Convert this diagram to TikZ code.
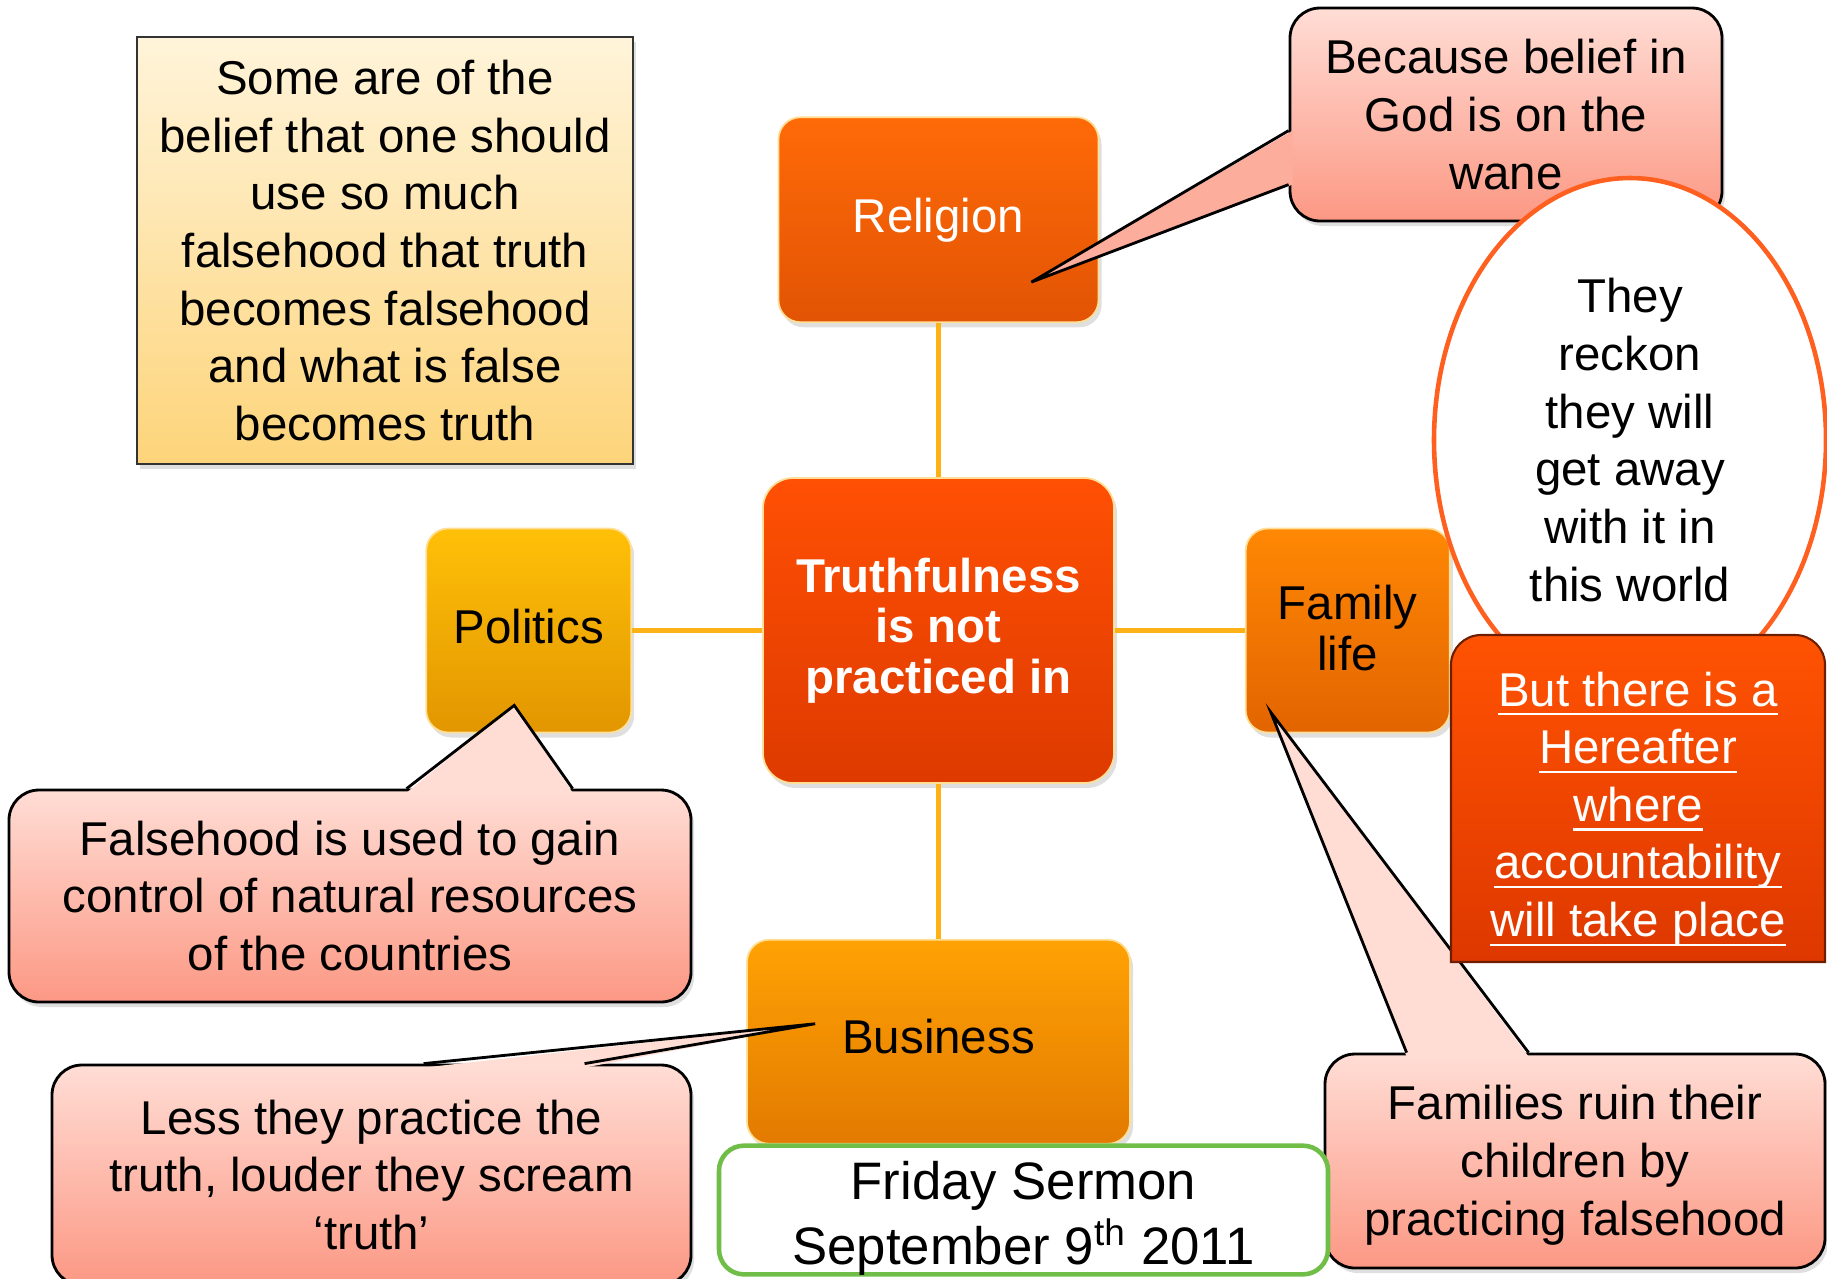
\documentclass[tikz,border=0pt]{standalone}
\usepackage{fontspec}
\setmainfont{Liberation Sans}
\usepackage{tikz}
\usetikzlibrary{positioning,calc,shapes.geometric,shadows}

\definecolor{linkorange}{RGB}{252,178,22}
\definecolor{rimyellow}{RGB}{255,222,150}
\definecolor{notetop}{RGB}{255,244,218}
\definecolor{notebottom}{RGB}{253,212,122}
\definecolor{calltop}{RGB}{255,221,213}
\definecolor{callbottom}{RGB}{252,152,132}
\colorlet{callmid}{callbottom!70!calltop}
\definecolor{religtop}{RGB}{255,106,8}
\definecolor{religbottom}{RGB}{226,84,4}
\definecolor{truthtop}{RGB}{255,80,4}
\definecolor{truthbottom}{RGB}{222,58,0}
\definecolor{polittop}{RGB}{255,192,8}
\definecolor{politbottom}{RGB}{226,150,0}
\definecolor{famtop}{RGB}{255,136,4}
\definecolor{fambottom}{RGB}{226,100,0}
\definecolor{bustop}{RGB}{255,162,4}
\definecolor{busbottom}{RGB}{226,122,0}
\definecolor{ellorange}{RGB}{255,96,32}
\definecolor{heretop}{RGB}{255,82,2}
\definecolor{herebottom}{RGB}{222,56,0}
\definecolor{sermongreen}{RGB}{112,190,72}

% white underline for the hereafter box
\newcommand{\lineunder}[1]{\leavevmode\setbox0=\hbox{#1}\rlap{\raisebox{-0.2em}{\rule{\wd0}{0.7pt}}}\box0}

\begin{document}
\begin{tikzpicture}[node distance=1.3cm,
    every node/.style={align=center, inner sep=0pt, font=\fontsize{13.5}{16.4}\selectfont},
    softshadow/.style={drop shadow={opacity=0.25, shadow xshift=0.03cm, shadow yshift=-0.05cm}},
    topic/.style={rounded corners=0.22cm, minimum height=2.04cm, draw=rimyellow, line width=0.5pt, softshadow},
    callout/.style={rounded corners=0.3cm, draw=black, line width=0.8pt, top color=calltop, bottom color=callbottom, softshadow},
    pointer/.style={draw=black, line width=0.8pt, line join=miter},
    link/.style={draw=linkorange, line width=1.4pt}]

    \useasboundingbox (0,0) rectangle (18.27,-12.78);
    \clip (0,0) rectangle (18.27,-12.78);

    \node (note) [draw=black!80, line width=0.8pt, top color=notetop, bottom color=notebottom,
        minimum width=4.96cm, minimum height=4.27cm, softshadow] at (3.85,-2.505)
        {Some are of the\\ belief that one should\\ use so much\\ falsehood that truth\\ becomes falsehood\\ and what is false\\ becomes truth};

    % the four topics round the centre
    \node (truth) [topic, rounded corners=0.3cm, top color=truthtop, bottom color=truthbottom,
        minimum width=3.51cm, minimum height=3.05cm, text=white,
        font=\bfseries\fontsize{13.5}{14.3}\selectfont] at (9.385,-6.305)
        {Truthfulness\\ is not\\ practiced in};
    \node (religion) [topic, above=1.54cm of truth, top color=religtop, bottom color=religbottom,
        minimum width=3.2cm, minimum height=2.05cm, text=white] {Religion};
    \node (business) [topic, below=1.55cm of truth, top color=bustop, bottom color=busbottom,
        minimum width=3.83cm] {\raisebox{0.05cm}[\height][\depth]{Business}};
    \node (politics) [topic, left=of truth, top color=polittop, bottom color=politbottom,
        minimum width=2.05cm] {\raisebox{0.035cm}[\height][\depth]{Politics}};
    \node (family) [topic, right=of truth, top color=famtop, bottom color=fambottom,
        minimum width=2.04cm, font=\fontsize{13.5}{14.3}\selectfont]
        {\raisebox{-0.045cm}[\height][\depth]{\begin{tabular}{@{}c@{}}Family\\ life\end{tabular}}};

    \draw[link] (religion) -- (truth);
    \draw[link] (truth) -- (business);
    \draw[link] (politics) -- (truth);
    \draw[link] (truth) -- (family);

    % callout for religion
    \node (because) [callout, minimum width=4.32cm, minimum height=2.13cm] at (15.06,-1.145)
        {Because belief in\\ God is on the\\ wane};
    \coordinate (tipR) at ($(religion.south east)+(-0.68,0.41)$);
    \fill[callmid] ($(because.north west)+(0.04,-1.24)$) -- (tipR) -- ($(because.north west)+(0.04,-1.78)$) -- cycle;
    \draw[pointer] ($(because.north west)+(0,-1.24)$) -- (tipR) -- ($(because.north west)+(0,-1.78)$);

    \node (reckon) [ellipse, draw=ellorange, line width=1.3pt, fill=white,
        minimum width=3.92cm, minimum height=5.24cm] at (16.30,-4.40)
        {They\\ reckon\\ they will\\ get away\\ with it in\\ this world};

    % callout for politics
    \node (falsehood) [callout, minimum width=6.82cm, minimum height=2.12cm] at (3.50,-8.96)
        {Falsehood is used to gain\\ control of natural resources\\ of the countries};
    \coordinate (tipP) at ($(politics.south)+(-0.145,0.28)$);
    \fill[calltop] ($(falsehood.north west)+(3.99,-0.04)$) -- (tipP) -- ($(falsehood.north west)+(5.65,-0.04)$) -- cycle;
    \draw[pointer] ($(falsehood.north west)+(3.99,0)$) -- (tipP) -- ($(falsehood.north west)+(5.65,0)$);

    % callout for business
    \node (less) [callout, minimum width=6.39cm, minimum height=2.2cm] at (3.715,-11.75)
        {Less they practice the\\ truth, louder they scream\\ ‘truth’};
    \coordinate (tipB) at ($(business.west)+(0.69,0.18)$);
    \fill[calltop] ($(less.north west)+(3.73,-0.04)$) -- (tipB) -- ($(less.north west)+(5.34,-0.04)$) -- cycle;
    \draw[pointer] ($(less.north west)+(3.73,0)$) -- (tipB) -- ($(less.north west)+(5.34,0)$);

    % callout for family life
    \node (families) [callout, minimum width=5.0cm, minimum height=2.14cm] at (15.75,-11.61)
        {\raisebox{-0.05cm}[\height][\depth]{\begin{tabular}{@{}c@{}}Families ruin their\\ children by\\ practicing falsehood\end{tabular}}};
    \coordinate (tipF) at ($(family.south west)+(0.26,0.21)$);
    \fill[calltop] ($(families.north west)+(0.83,-0.04)$) -- (tipF) -- ($(families.north west)+(2.05,-0.04)$) -- cycle;
    \draw[pointer] ($(families.north west)+(0.83,0)$) -- (tipF) -- ($(families.north west)+(2.05,0)$);

    % hereafter box, rounded on top only
    \shade[top color=heretop, bottom color=herebottom, draw={rgb,255:red,110;green,30;blue,0}, line width=0.6pt]
        (14.51,-9.62) -- (14.51,-6.65) arc[start angle=180, end angle=90, radius=0.3]
        -- (17.95,-6.35) arc[start angle=90, end angle=0, radius=0.3] -- (18.25,-9.62) -- cycle;
    \node (hereafter) [text=white] at (16.38,-8.09)
        {\lineunder{But there is a}\\ \lineunder{Hereafter}\\ \lineunder{where}\\ \lineunder{accountability}\\ \lineunder{will take place}};

    \node (sermon) [draw=sermongreen, line width=1.3pt, fill=white, rounded corners=0.25cm,
        minimum width=6.09cm, minimum height=1.28cm, font=\fontsize{15}{18.3}\selectfont] at (10.235,-12.10)
        {\raisebox{-0.09cm}[\height][\depth]{\begin{tabular}{@{}c@{}}Friday Sermon\\ September 9\textsuperscript{th} 2011\end{tabular}}};

\end{tikzpicture}
\end{document}
